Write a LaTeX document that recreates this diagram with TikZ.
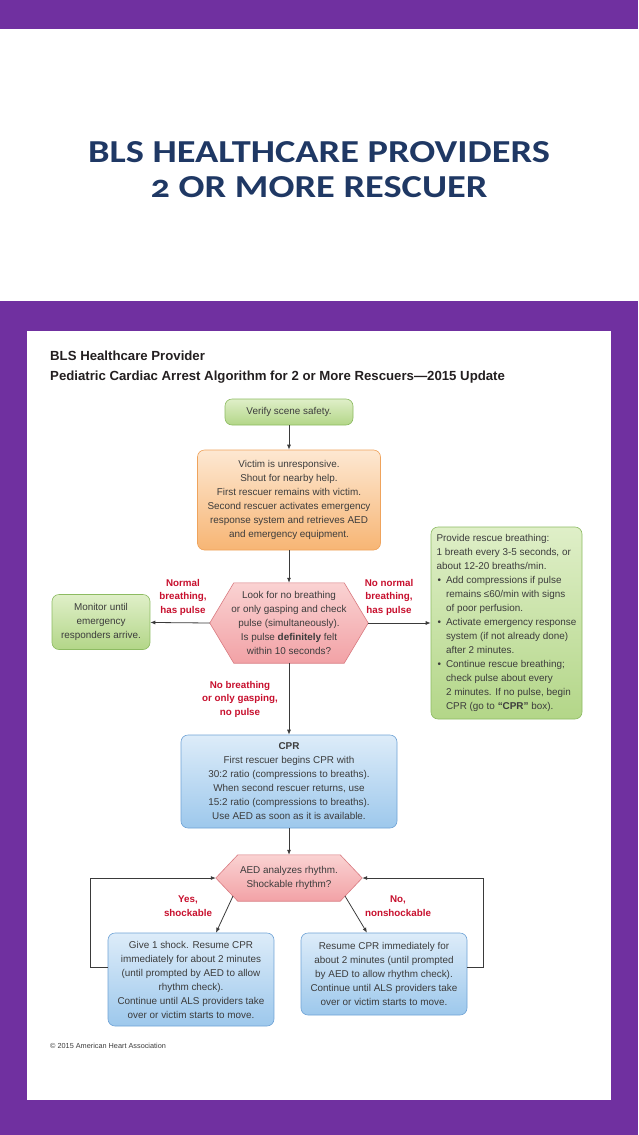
\documentclass[tikz,border=0pt]{standalone}
\usepackage{fontspec}
\setmainfont{Liberation Sans}
\newfontfamily\titlefont{Carlito}[Numbers=OldStyle]
\usetikzlibrary{positioning,arrows.meta,backgrounds,calc}

\definecolor{slidepurple}{HTML}{7030A0}
\definecolor{titleblue}{HTML}{1F3864}
\definecolor{headblack}{HTML}{231F20}
\definecolor{ahared}{HTML}{C8102E}
\definecolor{boxtext}{HTML}{3C3C3C}
\definecolor{arrowgray}{HTML}{3A3A3A}
\definecolor{greentop}{HTML}{DFEFC8}
\definecolor{greenbot}{HTML}{B3D688}
\definecolor{greenline}{HTML}{8DBB62}
\definecolor{orangetop}{HTML}{FDE8D2}
\definecolor{orangebot}{HTML}{F7B574}
\definecolor{orangeline}{HTML}{EFA35C}
\definecolor{pinktop}{HTML}{FAD2D2}
\definecolor{pinkbot}{HTML}{F2A2A6}
\definecolor{pinkline}{HTML}{D97A80}
\definecolor{bluetop}{HTML}{DDECF9}
\definecolor{bluebot}{HTML}{9DC8EC}
\definecolor{blueline}{HTML}{6FA3D6}

\newcommand{\boxfont}{\fontsize{9.9}{14}\selectfont}
\newcommand{\blt}{\hspace*{1pt}\makebox[8.5pt][l]{\textbullet}}
\newcommand{\ind}{\hspace*{9.5pt}}
% hexagon drawn round a named node: #1 node, #2 chamfer
\newcommand{\drawhex}[2]{\path[hexfill] (#1.west) -- ([xshift=#2]#1.north west) -- ([xshift=-#2]#1.north east) -- (#1.east) -- ([xshift=-#2]#1.south east) -- ([xshift=#2]#1.south west) -- cycle;}

\tikzset{
  box/.style={draw, rounded corners=7pt, align=center, text=boxtext, font=\boxfont, inner sep=3pt, line width=0.6pt},
  greenbox/.style={box, draw=greenline, top color=greentop, bottom color=greenbot},
  orangebox/.style={box, draw=orangeline, top color=orangetop, bottom color=orangebot},
  bluebox/.style={box, draw=blueline, top color=bluetop, bottom color=bluebot},
  hexnode/.style={align=center, text=boxtext, font=\boxfont, inner sep=0pt},
  hexfill/.style={draw=pinkline, top color=pinktop, bottom color=pinkbot, line width=0.6pt},
  flow/.style={-{Latex[length=5pt,width=4pt]}, draw=arrowgray, line width=0.8pt},
  branch/.style={font=\bfseries\fontsize{9.8}{13.5}\selectfont, text=ahared, align=center},
}

\begin{document}
\begin{tikzpicture}[x=1pt,y=-1pt]
  \useasboundingbox (0,0) rectangle (638,1135);

  % --- slide frame ---
  \begin{scope}[on background layer]
    \fill[slidepurple] (0,0) rectangle (638,29);
    \fill[slidepurple] (0,301) rectangle (638,1135);
    \fill[white] (27,331) rectangle (611,1100);
  \end{scope}

  \node[font=\titlefont\bfseries\fontsize{32}{35}\selectfont, text=titleblue, align=center] (title) at (319,170)
    {\scalebox{1.2}[1]{BLS HEALTHCARE PROVIDERS}\\\scalebox{1.2}[1]{2 OR MORE RESCUER}};

  \node[anchor=north west, font=\bfseries\fontsize{13.2}{19.5}\selectfont, text=headblack, align=left, inner sep=0pt] (head) at (50,351)
    {BLS Healthcare Provider\\Pediatric Cardiac Arrest Algorithm for 2 or More Rescuers---2015 Update};

  % --- top of the algorithm ---
  \node[greenbox, minimum width=128, minimum height=26] (safety) at (289,412) {Verify scene safety.};
  \node[orangebox, minimum width=183, minimum height=100] (victim) at (289,500)
    {Victim is unresponsive.\\Shout for nearby help.\\First rescuer remains with victim.\\Second rescuer activates emergency\\response system and retrieves AED\\and emergency equipment.};
  \node[hexnode, minimum width=158, minimum height=80] (check) at (289,623)
    {Look for no breathing\\or only gasping and check\\pulse (simultaneously).\\Is pulse \textbf{definitely} felt\\within 10 seconds?};
  \node[greenbox, minimum width=98, minimum height=55] (monitor) at (101,622)
    {Monitor until\\emergency\\responders arrive.};
  \node[greenbox, align=left, minimum width=151, minimum height=192] (breaths) at (506.5,623)
    {Provide rescue breathing:\\
     1 breath every 3-5 seconds, or\\
     about 12-20 breaths/min.\\
     \blt Add compressions if pulse\\
     \ind remains ≤60/min with signs\\
     \ind of poor perfusion.\\
     \blt Activate emergency response\\
     \ind system (if not already done)\\
     \ind after 2 minutes.\\
     \blt Continue rescue breathing;\\
     \ind check pulse about every\\
     \ind 2 minutes. If no pulse, begin\\
     \ind CPR (go to \textbf{``CPR''} box).};

  % --- CPR and rhythm check ---
  \node[bluebox, minimum width=216, minimum height=93] (cpr) at (289,781.5)
    {\textbf{CPR}\\First rescuer begins CPR with\\30:2 ratio (compressions to breaths).\\When second rescuer returns, use\\15:2 ratio (compressions to breaths).\\Use AED as soon as it is available.};
  \node[hexnode, minimum width=146, minimum height=46] (aed) at (289,878)
    {AED analyzes rhythm.\\Shockable rhythm?};
  \node[bluebox, minimum width=166, minimum height=93] (shock) at (191,979.5)
    {Give 1 shock. Resume CPR\\immediately for about 2 minutes\\(until prompted by AED to allow\\rhythm check).\\Continue until ALS providers take\\over or victim starts to move.};
  \node[bluebox, minimum width=166, minimum height=82] (resume) at (384,974)
    {Resume CPR immediately for\\about 2 minutes (until prompted\\by AED to allow rhythm check).\\Continue until ALS providers take\\over or victim starts to move.};

  \begin{scope}[on background layer]
    \drawhex{check}{24}
    \drawhex{aed}{22}
  \end{scope}

  % --- branch labels ---
  \node[branch] (lblnormal) at (183,597) {Normal\\breathing,\\has pulse};
  \node[branch] (lblnonormal) at (389,597) {No normal\\breathing,\\has pulse};
  \node[branch] (lblnopulse) at (240,699) {No breathing\\or only gasping,\\no pulse};
  \node[branch] (lblyes) at (188,906) {Yes,\\shockable};
  \node[branch] (lblno) at (398,906) {No,\\nonshockable};

  % --- connectors ---
  \draw[flow] (safety) -- (victim);
  \draw[flow] (victim) -- (check.north);
  \draw[flow] (check.west) -- (monitor);
  \draw[flow] (check.east) -- (breaths);
  \draw[flow] (check.south) -- (cpr);
  \draw[flow] (cpr) -- (aed.north);
  \coordinate (aedsw) at ($(aed.west)!0.78!([xshift=22]aed.south west)$);
  \coordinate (aedse) at ($(aed.east)!0.78!([xshift=-22]aed.south east)$);
  \draw[flow] (aedsw) -- ([xshift=25]shock.north);
  \draw[flow] (aedse) -- ([xshift=-17]resume.north);
  \draw[flow] ([yshift=12.5]shock.west) -- ++(-17,0) |- (aed.west);
  \draw[flow] ([yshift=7]resume.east) -- ++(16,0) |- (aed.east);

  \node[anchor=west, font=\fontsize{7.3}{8}\selectfont, text=boxtext, inner sep=0pt] (copy) at (50,1046)
    {\textcopyright{} 2015 American Heart Association};
\end{tikzpicture}
\end{document}
